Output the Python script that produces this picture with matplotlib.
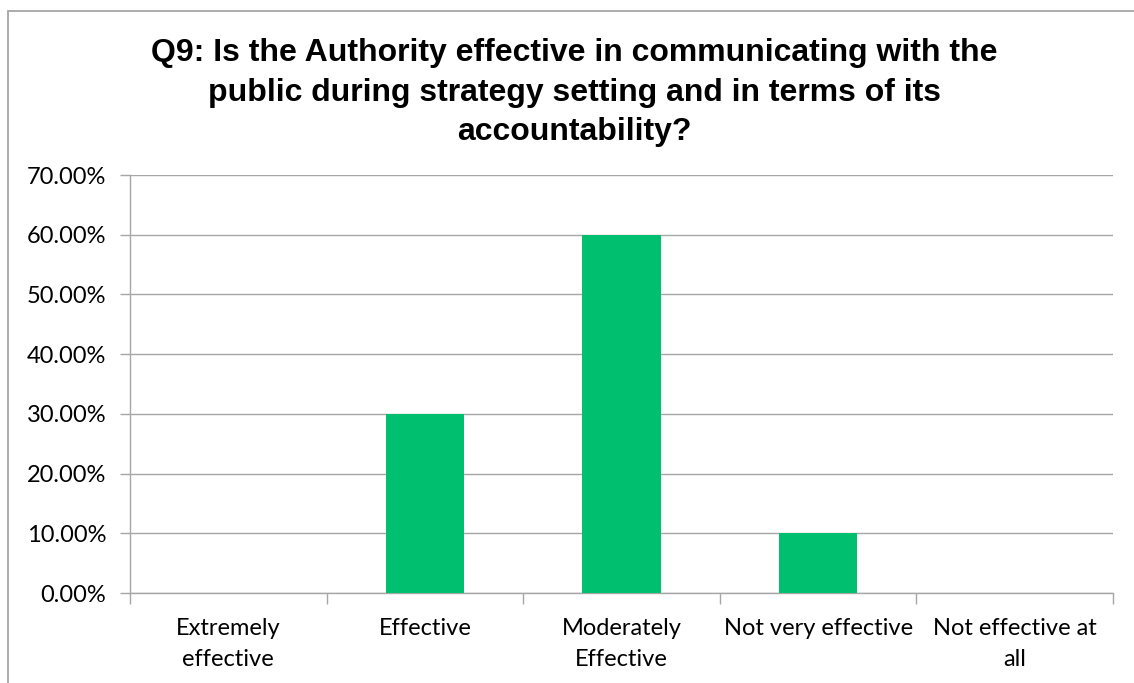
import matplotlib.pyplot as plt
from matplotlib.patches import Rectangle
from matplotlib.ticker import FuncFormatter
import numpy as np

categories = ["Extremely\neffective", "Effective", "Moderately\nEffective",
              "Not very effective", "Not effective at\nall"]
shares = [0.0, 0.30, 0.60, 0.10, 0.0]
title = ("Q9: Is the Authority effective in communicating with the\n"
         "public during strategy setting and in terms of its\n"
         "accountability?")

bar_color = "#00C070"
line_color = "#A6A6A6"

fig = plt.figure(figsize=(11.34, 6.83), dpi=100)

# chart frame, runs off the right and bottom edges
fig.patches.append(Rectangle((8 / 1134, -0.05), 1.2, 1 - 11 / 683 + 0.05,
                             transform=fig.transFigure, fill=False,
                             edgecolor=line_color, linewidth=1.3))

ax = fig.add_axes([130 / 1134, 1 - 593 / 683, (1113 - 130) / 1134, (593 - 175) / 683])

x = np.arange(len(categories))
ax.bar(x, shares, width=0.4, color=bar_color, zorder=3)

ax.set_xlim(-0.5, len(categories) - 0.5)
ax.set_ylim(0, 0.7)
ax.set_yticks(np.arange(0, 0.71, 0.1))
ax.yaxis.set_major_formatter(FuncFormatter(lambda v, p: f"{v * 100:.2f}%"))
ax.grid(axis="y", color=line_color, linewidth=1, zorder=0)

# category labels between the boundary ticks
ax.set_xticks(np.arange(-0.5, len(categories), 1))
ax.set_xticklabels([])
ax.set_xticks(x, minor=True)
ax.set_xticklabels(categories, minor=True, fontsize=17, family="Lato",
                   linespacing=1.6)
ax.tick_params(axis="x", which="minor", length=0, pad=18)
ax.tick_params(axis="x", which="major", length=8, color=line_color, width=1)
ax.tick_params(axis="y", length=7, color=line_color, width=1, pad=10,
               labelsize=17)
for lab in ax.get_yticklabels():
    lab.set_family("Lato")

for side in ["top", "right"]:
    ax.spines[side].set_visible(False)
for side in ["left", "bottom"]:
    ax.spines[side].set_color(line_color)
    ax.spines[side].set_linewidth(1)

fig.text(574 / 1134, 1 - 38 / 683, title, ha="center", va="top",
         fontsize=23, fontweight="bold", family="Liberation Sans",
         linespacing=1.42)

fig.savefig("out.png", dpi=100)
